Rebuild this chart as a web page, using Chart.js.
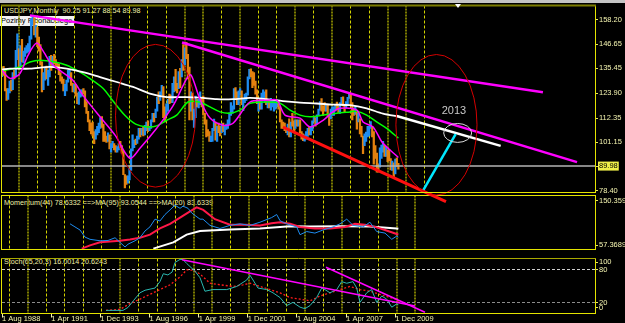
<!DOCTYPE html>
<html>
<head>
<meta charset="utf-8">
<title>USDJPY Monthly</title>
<script src="https://cdn.jsdelivr.net/npm/chart.js"></script>
<style>
  body { margin: 0; background: #000; width: 625px; height: 323px; overflow: hidden; position: relative;
         font-family: "Liberation Sans", Arial, sans-serif; }
  .pane { position: absolute; left: 0; }
  .txt { position: absolute; color: #f0f0a8; font-size: 7.2px; line-height: 1; white-space: pre; }
  #strip { position: absolute; left: 0; top: 0; width: 625px; height: 3px; background: #c4c4c4; }
  #marker { position: absolute; left: 455px; top: 4px; width: 0; height: 0;
            border-left: 3px solid transparent; border-right: 3px solid transparent; border-top: 4px solid #fff; z-index: 5; }
  #fibo { position: absolute; left: 0; top: 16px; width: 73px; height: 10px; background: #f2f2f2; color: #000;
          font-size: 7.5px; line-height: 10px; padding-left: 1px; white-space: pre; }
</style>
</head>
<body>
  <div id="strip"></div>
  <div id="marker"></div>
  <div class="txt" style="left:4px; top:7px;">USDJPY,Monthly  90.25 91.27 88.54 89.98</div>
  <div id="fibo">Pozimy Fibonacciego</div>
  <div class="txt" style="left:4px; top:199px;">Momentum(44) 78.6332 ==&gt;MA(95) 93.0544 ==&gt;MA(20) 83.6339</div>
  <div class="txt" style="left:4px; top:258px;">Stoch(65,20,3) 16.0014 20.6243</div>

  <div class="pane" style="top:190px; z-index:1;"><canvas id="momChart" width="625" height="65"></canvas></div>
  <div class="pane" style="top:253px; z-index:1;"><canvas id="stochChart" width="625" height="70"></canvas></div>
  <div class="pane" style="top:0; z-index:2;"><canvas id="mainChart" width="625" height="205"></canvas></div>

<script>
// monthly bars, Aug 1988 .. Feb 2010 (month index 0 = Aug 1988)
const firstOpen = 133.0;
const closes = [
  134.5,134.4,125.6,122.0,125.0,
  129.3,126.2,132.8,132.6,143.3,143.8,137.3,145.0,139.2,142.6,143.5,143.8,
  144.4,149.6,157.6,158.6,152.1,153.7,146.1,144.1,137.8,129.4,132.8,135.4,
  131.5,132.7,140.5,137.1,138.3,138.1,137.0,136.9,132.9,130.6,129.6,125.3,
  125.3,129.3,133.0,133.3,128.1,125.6,127.5,123.0,119.8,123.4,124.3,124.9,
  124.4,118.1,115.0,111.1,107.3,106.5,104.8,104.5,105.4,108.3,109.0,111.9,
  108.6,104.3,102.8,102.0,104.5,98.6,99.8,100.0,98.6,97.0,98.6,99.7,
  99.2,96.5,86.5,84.2,83.2,84.6,88.5,97.6,99.6,101.9,101.5,103.4,
  107.2,104.7,106.6,104.6,108.5,109.9,106.5,108.3,111.3,114.1,113.7,115.9,
  121.3,120.2,124.0,126.8,116.2,114.5,118.4,120.8,120.7,120.4,127.7,130.4,
  127.0,126.3,133.3,132.9,138.8,138.5,144.1,141.4,135.9,116.0,123.7,113.1,
  116.3,119.3,118.5,119.3,121.5,121.0,114.6,110.1,106.0,104.2,102.1,102.2,
  107.4,110.3,102.9,108.2,107.7,106.1,109.7,106.7,108.3,108.8,110.8,114.4,
  116.4,117.3,125.5,123.6,119.0,124.7,124.8,118.9,119.4,122.3,123.6,131.0,
  134.7,133.5,132.7,128.5,124.0,119.5,119.7,118.3,121.7,122.4,122.5,118.7,
  119.9,117.9,118.1,118.8,119.3,119.8,120.5,116.7,111.5,110.0,109.6,107.2,
  105.8,109.1,104.2,110.4,109.6,108.7,111.4,109.2,110.0,105.8,103.1,102.6,
  103.6,104.5,107.2,104.9,108.3,110.9,112.4,111.0,113.5,116.4,119.7,117.9,
  117.2,115.8,117.8,113.8,112.5,114.4,114.7,117.3,118.1,116.9,115.8,119.0,
  121.0,118.4,117.8,119.5,121.7,123.2,118.7,115.8,114.8,115.3,111.2,111.7,
  106.4,103.8,99.7,103.9,105.5,106.2,108.0,108.8,106.0,98.4,95.5,90.7,
  89.9,97.6,98.3,98.6,95.3,96.4,94.7,93.0,89.8,89.9,86.4,93.0,
  90.3,89.98
];
const highs = [
  136.0,136.4,135.0,126.0,126.0,
  129.5,130.0,133.5,134.5,143.8,151.5,144.5,146.0,149.0,143.5,145.0,146.0,
  147.0,150.5,158.5,160.3,159.0,155.5,154.5,150.0,146.5,138.5,133.5,136.0,
  136.5,134.5,141.0,141.5,141.0,142.0,139.5,138.0,137.5,133.5,131.5,130.5,
  128.0,130.0,134.5,134.5,133.5,128.5,128.0,128.0,124.0,124.5,125.5,125.5,
  126.0,125.0,120.0,115.5,111.5,110.0,110.5,106.0,107.0,108.5,110.0,112.5,
  113.0,109.5,106.0,104.0,105.5,104.5,100.5,101.5,100.5,99.5,99.0,100.5,
  101.5,99.5,97.0,86.0,85.5,85.5,89.0,98.0,104.5,102.0,102.5,104.0,
  107.5,107.5,107.5,108.0,109.0,110.5,111.0,108.5,111.5,114.5,114.5,116.5,
  122.0,124.5,124.5,127.5,127.0,117.5,119.0,121.0,123.5,123.0,128.5,131.5,
  135.0,128.5,134.0,135.5,139.5,146.5,145.0,147.6,142.0,136.0,124.5,124.0,
  116.5,122.5,121.0,121.0,124.5,122.0,122.5,114.5,111.5,107.0,106.0,104.0,
  107.5,111.8,110.5,108.5,110.0,108.5,109.8,110.0,108.5,109.5,111.5,114.8,
  119.5,118.0,126.0,126.5,124.5,125.0,126.0,125.0,121.5,123.5,124.0,131.5,
  135.0,135.2,134.0,133.5,129.5,125.5,120.5,121.0,124.0,125.5,124.5,125.5,
  120.5,121.0,121.5,120.5,120.0,120.0,120.8,120.5,117.5,111.5,110.5,110.0,
  107.5,109.5,112.0,110.5,114.5,111.0,111.5,111.5,111.5,111.5,106.0,105.0,
  104.5,106.0,107.5,108.0,108.5,111.0,113.0,112.5,113.8,116.5,120.0,121.4,
  118.0,119.5,118.5,118.5,114.0,116.5,117.5,117.5,118.3,119.8,118.0,119.5,
  122.0,122.2,118.5,120.0,122.0,124.1,123.5,119.5,117.0,117.8,115.5,114.5,
  112.0,108.5,104.0,105.0,105.8,108.5,108.5,110.7,108.5,106.0,99.5,96.0,
  91.0,98.5,99.7,101.5,99.5,98.9,97.5,97.8,93.5,92.3,91.5,93.2,
  93.8,91.27
];
const lows = [
  131.6,132.2,125.0,120.5,121.0,
  124.0,125.0,125.5,130.5,131.5,139.5,136.0,136.5,138.5,138.0,141.0,142.5,
  143.0,143.5,149.0,155.5,151.0,150.0,145.5,143.5,137.0,124.5,125.5,130.0,
  130.5,127.5,131.5,134.5,136.0,137.5,136.5,135.5,132.5,129.5,128.5,125.0,
  122.8,125.0,129.0,130.5,127.5,124.5,124.5,122.5,119.0,118.7,122.0,122.5,
  123.5,117.5,114.5,110.5,106.5,105.0,104.0,100.4,102.5,104.5,105.5,107.5,
  108.0,101.5,101.5,101.0,101.5,98.0,96.5,98.5,97.5,96.5,96.5,97.5,
  98.5,96.0,86.0,79.8,81.5,82.0,83.5,88.0,97.0,98.5,100.0,100.5,
  102.5,103.5,104.5,104.0,104.5,106.5,106.0,106.5,107.5,110.5,110.5,112.5,
  115.5,119.0,120.5,123.0,112.5,110.5,113.5,115.5,119.0,119.5,119.5,124.5,
  125.0,124.0,126.0,126.5,131.5,134.5,137.0,140.0,130.5,111.5,115.5,111.5,
  108.0,112.5,117.5,117.0,118.5,117.5,114.0,109.5,103.5,104.0,101.5,101.3,
  101.5,106.5,102.0,101.5,105.5,104.0,105.5,106.0,104.5,107.0,107.5,109.5,
  113.5,114.5,116.5,121.5,118.5,118.5,123.0,118.5,115.8,119.5,120.5,123.0,
  130.5,131.5,126.5,127.5,123.5,119.0,115.5,116.5,116.5,121.5,119.5,118.5,
  117.0,117.0,116.0,117.5,115.5,116.5,117.5,116.5,110.5,107.5,107.5,106.5,
  105.5,104.5,103.5,103.5,108.5,106.5,107.5,108.5,108.5,105.5,102.5,101.8,
  101.6,102.5,103.8,104.5,104.5,106.5,110.5,108.5,109.5,113.5,116.0,115.5,
  113.5,115.5,115.5,113.5,108.9,112.0,113.5,113.5,115.5,116.5,115.0,114.5,
  118.5,118.0,115.2,117.0,118.5,121.5,118.5,111.5,113.5,114.0,107.2,110.5,
  105.0,103.5,95.8,99.5,101.5,103.5,104.0,107.5,103.5,90.9,93.5,87.1,
  87.2,89.5,93.5,96.5,94.5,94.5,92.0,92.5,88.2,88.0,84.8,86.3,
  89.8,88.54
];

// moving averages on price, [month, price]
const maFast = [[0,134.5],[5.2,130.8],[11.7,133.1],[16.9,141.5],[22.6,147.2],[27.3,142.9],[31.2,138.4],[37.7,134.5],
  [46.2,129.9],[52.7,122.9],[63.8,112.9],[73.6,104.4],[83.3,93.6],[89.8,98.3],[100.7,107.6],[111.3,118.0],[120.2,130.7],
  [123,132.4],[128.9,121.0],[135.4,112.3],[143.9,109.0],[150.4,109.9],[161.4,119.8],[172.4,120.6],[179,120.6],[184.2,113.7],
  [194,112.3],[200.5,108.2],[209,111.3],[215.4,115.2],[220,116.9],[231,116.0],[235,110.5],[241.5,108.2],[247.2,101.3],
  [251.3,98.3],[258,94.0]];
const maMid = [[0,134.3],[11.7,136.1],[18.2,138.4],[24.7,139.2],[34.5,138.4],[42.1,136.9],[50.8,133.7],[57.3,130.7],
  [65.7,126.2],[72,120.5],[80.1,113.5],[87,109.5],[94.2,108.2],[100.7,108.7],[107.2,111.3],[113.7,113.7],[121.1,119.8],
  [128.9,119.7],[135.4,117.5],[141.9,115.2],[148.4,114.6],[154.9,116.0],[161.4,119.2],[172.3,119.8],[181,119.2],[187.5,116.0],
  [194,113.7],[200.5,112.9],[209,113.7],[217.9,114.6],[226.5,115.2],[230.9,115.5],[237.4,113.7],[243.9,110.5],[250.4,107.5],
  [258,103.0]];
const maSlow = [[0,134.9],[5.2,135.3],[18.2,135.3],[31.2,136.1],[42.1,135.3],[52.7,133.7],[63.8,131.4],[74.7,129.1],
  [85.3,126.8],[96.3,123.7],[107.2,122.1],[120.2,122.1],[128.9,121.8],[139.8,121.1],[150.4,121.1],[161.4,121.7],[172.3,121.1],
  [182.9,120.2],[194,119.5],[204.8,119.1],[215.5,118.6],[226.5,118.3],[237.4,116.8],[248,114.4],[258,113.1]];

// hand drawn objects on the price window
const trendUpper = [[18.2,160.1],[352.1,124.3]];
const trendLower = [[117.2,147.5],[374.3,91.8]];
const trendSupport = [[182.9,108.1],[289,73.4]];
const trendCyan = [[273.4,77.7],[295.3,104.8]];
const trendWhite = [[256.9,113.3],[324.6,99.4]];
const lastPrice = 89.98;
const ellipseCentres = [[99.9,113.4],[282.8,109.2],[296.6,105.4]];
const ellipseRadii = [[26.0,33.2],[26.4,32.7],[9.1,4.4]];
const noteText = '2013';
const noteAt = [294.2,115.5];

// momentum window
const momentum = [[44.3,101.6],[47.5,96.3],[50.8,90.9],[54,78.8],[57.3,74.9],[63.8,72.4],[69,72.9],[73.6,77.6],[76.8,69.7],
  [80.1,61.7],[82,66.5],[86.6,72.4],[89.8,77.6],[93.1,89.3],[96.3,96.3],[99.6,109.6],[102.8,106.4],[106.1,117.6],[109.4,125.6],
  [112.6,133.6],[115.9,128.3],[117.8,132],[121.1,128.3],[123.5,120.3],[125.6,116],[128.9,109.6],[130.8,109.6],[135.4,98.9],
  [141.9,93.6],[148.4,98.9],[154.9,101.6],[161.4,98.9],[167.9,104.3],[175.5,112.3],[178.8,117.6],[181,106.9],[185.3,101.6],
  [191.8,96.3],[194,82.9],[198.3,88.3],[203.7,85.6],[208.9,90.9],[215.5,96.3],[220,101.6],[224.4,109.6],[228.5,98.9],
  [235,96.3],[239.5,104.3],[243.9,88.3],[249.3,85.6],[253.7,74.9],[256.9,80.4],[258,78.6]];
const momentumMa20 = [[51.9,58.9],[57.3,64.4],[63.8,69.7],[70.3,71.3],[76.8,72.4],[83.3,74.5],[89.8,77.6],[96.3,83.0],
  [102.8,93.6],[109.4,101.6],[115.9,112.3],[122.4,122.9],[126.7,129.9],[131,125.6],[138.6,109.6],[148.4,100.0],[158.2,100.0],
  [167.9,98.9],[175.5,102.7],[181,104.3],[187.5,101.6],[194,96.3],[203.7,93.6],[213.5,93.6],[223.3,96.3],[229.8,101.6],
  [236.3,100.0],[242.8,96.3],[249.3,90.9],[256.9,84.0],[258,83.6]];
const momentumMa95 = [[98.5,58.9],[111.5,69.7],[120.2,83.0],[128.9,89.3],[148.4,92.0],[167.9,93.6],[187.5,97.3],
  [200.5,96.8],[220,97.3],[239.5,96.8],[256.9,93.6],[258,93.05]];

// stochastic window
const stochMain = [[67.7,5.7],[73.6,5.7],[78.8,5.7],[82,11],[85.5,23.1],[89.8,37.6],[93.1,42.3],[99.6,46.3],[102.8,57.9],
  [105,72.3],[108,70.1],[110.7,75.3],[112.6,92.7],[115.9,98.4],[117.8,97.9],[120.2,91],[125.6,77],[128.9,64.9],[132.1,40.5],
  [137.3,43.5],[146.3,43.5],[152.8,49.2],[159.3,60.9],[161.4,69.6],[163.4,60.9],[166.6,46.3],[172.3,43.5],[176.4,37.6],
  [181,28.9],[185.3,14.4],[189.4,20.2],[194,11.5],[197.2,8.7],[200.5,14.4],[204.8,28.9],[208.1,46.3],[210.2,43.5],
  [213.5,37.6],[217.9,43.5],[221.1,57.9],[224.4,55],[228.5,57.9],[230.9,46.3],[233,20.2],[237.4,37.6],[240.6,43.5],
  [243.9,20.2],[247.2,31.8],[250.4,26.1],[253.7,11.5],[256.9,17.4],[258,16.0]];
const stochSignal = [[67.7,5.7],[76.8,7.5],[83.3,17.9],[89.8,26.1],[96.3,34.8],[102.8,43.5],[109.4,52.2],[115.9,66.6],
  [120.2,79.3],[124.3,78.8],[128.9,71.8],[135.4,55],[141.9,52.2],[150.4,49.2],[156.9,52.2],[161.4,55],[167.9,49.2],
  [174.4,43.5],[181,37.6],[187.5,28.9],[194,26.1],[200.5,23.1],[207,31.8],[213.5,37.6],[220,43.5],[226.5,49.2],[233,43.5],
  [239.5,40.5],[246,34.8],[252.6,28.9],[256.9,26.1],[258,20.6]];
const stochTrend1 = [[117.2,97.9],[268.8,13.6]];
const stochTrend2 = [[210.9,84.0],[275.3,2.3]];

// axes
const gridMonths = [5,17,29,41,53,65,77,89,101,113,125,137,149,161,173,185,197,209,221,233,245,257,269];
const dimGridMonths = [17,77,125,137,161,197,221,257,269];
const dateTickMonths = [0,32,64,96,128,160,192,224,256];
const dateLabels = ['1 Aug 1988','1 Apr 1991','1 Dec 1993','1 Aug 1996','1 Apr 1999','1 Dec 2001','1 Aug 2004','1 Apr 2007','1 Dec 2009'];
const priceTicks = [158.20,146.65,135.45,123.90,112.35,101.15,89.98,78.40];
const priceLabels = ['158.20','146.65','135.45','123.90','112.35','101.15','89.98','78.40'];
const momentumTicks = [141.54,64.58];
const momentumLabels = ['150.3597','57.3689'];
const stochTicks = [93.1,80,20,10.2];
const stochLabels = ['100','80','20','0'];

const FONT = '"Liberation Sans", Arial, sans-serif';
const LABEL = '#f4f4b0';
const X_MAX = 386;

const barColours = closes.map((c, i) => c >= (i ? closes[i - 1] : firstOpen) ? '#1e8cf0' : '#e3820f');

function line(points, colour, width, extra) {
  return Object.assign({
    type: 'line',
    data: points.map(p => ({ x: p[0], y: p[1] })),
    borderColor: colour, borderWidth: width,
    pointRadius: 0, tension: 0, fill: false,
    xAxisID: 'x', yAxisID: 'y'
  }, extra || {});
}

function gridAxis() {
  const dim = c => c.tick && dimGridMonths.includes(c.tick.value);
  return {
    type: 'linear', min: 0, max: X_MAX, offset: false,
    afterBuildTicks: s => { s.ticks = gridMonths.map(v => ({ value: v })); },
    afterFit: s => { s.height = 0; },
    ticks: { display: false },
    grid: { color: c => dim(c) ? '#7a7a00' : '#d4d400', lineWidth: c => dim(c) ? 2 : 1, drawTicks: false },
    border: { display: false, dash: c => dim(c) ? [2, 1] : [3, 2] }
  };
}

function rightAxis(min, max, values, labels, grid, tickExtra) {
  return {
    type: 'linear', position: 'right', min: min, max: max,
    afterBuildTicks: s => { s.ticks = values.map(v => ({ value: v })); },
    afterFit: s => { s.width = 30; },
    ticks: Object.assign({
      autoSkip: false, padding: 1, color: LABEL,
      font: { family: FONT, size: 7.5 },
      callback: (v, i) => labels[i]
    }, tickExtra || {}),
    grid: Object.assign({ drawOnChartArea: false, drawTicks: true, tickLength: 3, tickColor: '#e6e660' }, grid || {}),
    border: { display: false, dash: [3, 2] }
  };
}

// yellow frame round each window
const frame = {
  id: 'frame',
  afterDraw(chart, args, opts) {
    const { ctx, chartArea: a } = chart;
    ctx.save();
    ctx.lineWidth = 1;
    ctx.strokeStyle = '#e4e400';
    ctx.beginPath();
    ctx.moveTo(a.left - 0.5, a.top); ctx.lineTo(a.left - 0.5, a.bottom);
    ctx.moveTo(a.right + 0.5, a.top); ctx.lineTo(a.right + 0.5, a.bottom);
    ctx.moveTo(a.left - 1, a.bottom); ctx.lineTo(a.right + 1, a.bottom);
    ctx.stroke();
    ctx.strokeStyle = opts.top || '#e4e400';
    ctx.lineWidth = opts.topWidth || 1;
    ctx.beginPath();
    ctx.moveTo(a.left - 1, a.top); ctx.lineTo(a.right + 1, a.top);
    ctx.stroke();
    ctx.restore();
  }
};

// ellipses and the note on the price window
const sketches = {
  id: 'sketches',
  afterDatasetsDraw(chart) {
    const { ctx, scales: { x, y } } = chart;
    const colours = ['#d40000', '#d40000', '#d8d8d8'];
    ctx.save();
    ellipseCentres.forEach((c, i) => {
      const cx = x.getPixelForValue(c[0]), cy = y.getPixelForValue(c[1]);
      const rx = Math.abs(x.getPixelForValue(c[0] + ellipseRadii[i][0]) - cx);
      const ry = Math.abs(y.getPixelForValue(c[1] + ellipseRadii[i][1]) - cy);
      ctx.strokeStyle = colours[i];
      ctx.lineWidth = 1;
      ctx.beginPath();
      ctx.ellipse(cx, cy, rx, ry, 0, 0, Math.PI * 2);
      ctx.stroke();
    });
    ctx.fillStyle = '#c8c8c8';
    ctx.font = '11px ' + FONT;
    ctx.textAlign = 'center';
    ctx.textBaseline = 'middle';
    ctx.fillText(noteText, x.getPixelForValue(noteAt[0]), y.getPixelForValue(noteAt[1]));
    ctx.restore();
  }
};

const common = {
  responsive: false, animation: false, devicePixelRatio: 1, events: [],
  plugins: { legend: { display: false }, tooltip: { enabled: false } }
};

new Chart(document.getElementById('mainChart'), {
  type: 'bar',
  data: {
    datasets: [
      line(trendUpper, '#ff00ff', 2.5, { order: 1 }),
      line(trendLower, '#ff00ff', 2.5, { order: 1 }),
      line(trendSupport, '#ff1010', 3, { order: 1, clip: false }),
      line(trendCyan, '#00e8ff', 2.5, { order: 1, clip: false }),
      line(trendWhite, '#ffffff', 2.5, { order: 1 }),
      line(maSlow, '#ffffff', 1.8, { order: 4, tension: 0.3 }),
      line(maMid, '#00ff00', 1.5, { order: 4, tension: 0.3 }),
      line(maFast, '#ff00ff', 1.5, { order: 3, tension: 0.3 }),
      line([[0, lastPrice], [X_MAX, lastPrice]], '#b4b4b4', 1.5, { order: 6 }),
      {
        type: 'bar',
        data: closes.map((c, i) => ({ x: i, y: [lows[i], highs[i]] })),
        backgroundColor: barColours, borderWidth: 0, barThickness: 1.6,
        order: 10, xAxisID: 'x', yAxisID: 'y'
      }
    ]
  },
  options: Object.assign({}, common, {
    layout: { padding: { left: 2, top: 5, right: 0, bottom: 12.5 } },
    scales: {
      x: gridAxis(),
      y: rightAxis(77.69, 164.7, priceTicks, priceLabels, null, {
        color: c => c.tick && c.tick.value === lastPrice ? '#000' : LABEL,
        showLabelBackdrop: c => !!(c.tick && c.tick.value === lastPrice),
        backdropColor: '#f0f048',
        backdropPadding: { left: 1, right: 1, top: 0, bottom: 0 }
      })
    },
    plugins: Object.assign({}, common.plugins, { frame: { top: '#7c7c00', topWidth: 2 } })
  }),
  plugins: [frame, sketches]
});

new Chart(document.getElementById('momChart'), {
  type: 'line',
  data: {
    datasets: [
      line(momentumMa95, '#ffffff', 2, { order: 3 }),
      line(momentumMa20, '#ff1848', 2, { order: 2 }),
      line(momentum, '#1e8cf0', 1, { order: 1 })
    ]
  },
  options: Object.assign({}, common, {
    layout: { padding: { left: 2, top: 4.5, right: 0, bottom: 2.5 } },
    scales: {
      x: gridAxis(),
      y: rightAxis(57.3689, 150.3597, momentumTicks, momentumLabels)
    }
  }),
  plugins: [frame]
});

const stochGrid = {
  drawOnChartArea: true,
  color: c => c.tick && c.tick.value === 80 ? '#d0d0d0' : (c.tick && c.tick.value === 20 ? '#8c8c8c' : 'rgba(0,0,0,0)')
};
const stochScales = {
  x: gridAxis(),
  xl: {
    type: 'linear', position: 'bottom', min: 0, max: X_MAX, offset: false,
    afterBuildTicks: s => { s.ticks = dateTickMonths.map(v => ({ value: v })); },
    afterFit: s => { s.height = 9.5; },
    ticks: {
      autoSkip: false, maxRotation: 0, align: 'start', padding: -2.7, color: LABEL,
      font: { family: FONT, size: 7.5, lineHeight: 1 },
      callback: (v, i) => dateLabels[i]
    },
    grid: { drawOnChartArea: false, drawTicks: true, tickLength: 4, tickColor: LABEL },
    border: { display: false }
  },
  y: rightAxis(0, 100, stochTicks, stochLabels, stochGrid)
};

new Chart(document.getElementById('stochChart'), {
  type: 'line',
  data: {
    datasets: [
      line(stochTrend1, '#ff00ff', 1.5, { order: 1 }),
      line(stochTrend2, '#ff00ff', 1.5, { order: 1 }),
      line(stochSignal, '#ff1a1a', 1.3, { order: 3, borderDash: [2, 2] }),
      line(stochMain, '#2ab8b0', 1, { order: 2 })
    ]
  },
  options: Object.assign({}, common, {
    layout: { padding: { left: 2, top: 2.5, right: 0, bottom: 0 } },
    scales: stochScales,
    plugins: Object.assign({}, common.plugins, { frame: { top: '#a8a800' } })
  }),
  plugins: [frame]
});
</script>
</body>
</html>
